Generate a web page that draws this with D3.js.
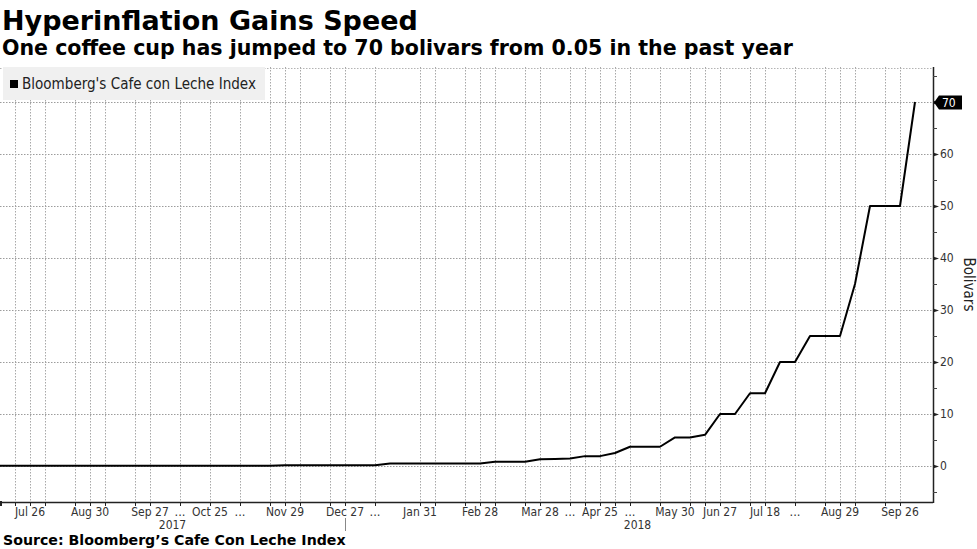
<!DOCTYPE html>
<html>
<head>
<meta charset="utf-8">
<script src="https://cdn.jsdelivr.net/npm/d3@7"></script>
<style>
  body { margin: 0; background: #fff; }
  svg { display: block; font-family: "DejaVu Sans", Verdana, sans-serif; }
</style>
</head>
<body>
<svg id="chart" width="977" height="549"></svg>
<script>
// weekly readings (a few weeks are missing in the source series)
var weeks = [
  "2017-07-12","2017-07-19","2017-07-26","2017-08-02","2017-08-09","2017-08-16","2017-08-30",
  "2017-09-06","2017-09-13","2017-09-20","2017-09-27","2017-10-04","2017-10-11","2017-10-18",
  "2017-10-25","2017-11-01","2017-11-08","2017-11-15","2017-11-22","2017-11-29","2017-12-06",
  "2017-12-13","2017-12-20","2017-12-27","2018-01-03","2018-01-10","2018-01-17","2018-01-24",
  "2018-01-31","2018-02-07","2018-02-14","2018-02-21","2018-02-28","2018-03-07","2018-03-14",
  "2018-03-21","2018-03-28","2018-04-04","2018-04-11","2018-04-18","2018-04-25","2018-05-02",
  "2018-05-09","2018-05-16","2018-05-23","2018-05-30","2018-06-06","2018-06-13","2018-06-27",
  "2018-07-04","2018-07-11","2018-07-18","2018-07-25","2018-08-01","2018-08-08","2018-08-15",
  "2018-08-29","2018-09-05","2018-09-12","2018-09-19","2018-09-26","2018-10-03"
];

// price of a cafe con leche, bolivars
var cafeConLeche = [
  0.05, 0.05, 0.05, 0.05, 0.05, 0.05, 0.05,
  0.05, 0.05, 0.05, 0.05, 0.05, 0.05, 0.05,
  0.05, 0.05, 0.05, 0.05, 0.05, 0.15, 0.15,
  0.15, 0.15, 0.15, 0.15, 0.15, 0.5, 0.5,
  0.5, 0.5, 0.5, 0.5, 0.5, 0.8, 0.8,
  0.8, 1.3, 1.35, 1.45, 1.9, 1.9, 2.5,
  3.7, 3.7, 3.7, 5.5, 5.5, 6, 10,
  10, 14, 14, 20, 20, 25, 25,
  25, 35, 50, 50, 50, 70
];

var labelWeeks = ["2017-07-26","2017-08-30","2017-09-27","2017-10-25","2017-11-29","2017-12-27",
  "2018-01-31","2018-02-28","2018-03-28","2018-04-25","2018-05-30","2018-06-27","2018-07-18",
  "2018-08-29","2018-09-26"];
var ellipsisWeeks = ["2017-10-11","2017-11-08","2018-01-10","2018-04-11","2018-05-09","2018-08-01"];
var gridWeeks = ["2017-07-19","2017-07-26","2017-08-02","2017-08-16","2017-08-30","2017-09-06",
  "2017-09-20","2017-09-27","2017-10-11","2017-10-25","2017-11-08","2017-11-22","2017-11-29",
  "2017-12-06","2017-12-20","2017-12-27","2018-01-10","2018-01-31","2018-02-07","2018-02-21",
  "2018-02-28","2018-03-07","2018-03-21","2018-03-28","2018-04-11","2018-04-18","2018-04-25",
  "2018-05-02","2018-05-09","2018-05-23","2018-06-06","2018-06-13","2018-06-27","2018-07-11",
  "2018-07-18","2018-08-01","2018-08-15","2018-08-29","2018-09-05","2018-09-19","2018-09-26"];
var years = [{ label: "2017", from: "2017-07-12", to: "2017-12-27" },
             { label: "2018", from: "2018-01-03", to: "2018-10-03" }];
var yMajor = [0, 10, 20, 30, 40, 50, 60, 70];
var yMinor = [-5, 5, 15, 25, 35, 45, 55, 65, 75];

(function(){
  var svg = d3.select("#chart");
  var pl = 0, pr = 933, pt = 67, pb = 502;

  var x = d3.scalePoint().domain(weeks).range([0, 915]);
  var y = d3.scaleLinear().domain([-6.92, 76.73]).range([pb, pt]);
  var fmt = d3.timeFormat("%b %-d");
  var parse = d3.timeParse("%Y-%m-%d");
  function px(v){ return Math.round(v) + 0.5; }

  //fit a text to the width it has in the original
  function fitWidth(t, w){
    var size = parseFloat(t.attr("font-size"));
    var len = t.node().getComputedTextLength();
    t.attr("font-size", (size * w / len).toFixed(2));
  }

  // titles
  fitWidth(svg.append("text").attr("x", 2).attr("y", 30).attr("font-size", 27)
    .attr("font-weight", "bold").attr("fill", "#000").text("Hyperinflation Gains Speed"), 416);
  fitWidth(svg.append("text").attr("x", 2).attr("y", 55).attr("font-size", 19)
    .attr("font-weight", "bold").attr("fill", "#000")
    .text("One coffee cup has jumped to 70 bolivars from 0.05 in the past year"), 791);
  fitWidth(svg.append("text").attr("x", 3).attr("y", 545).attr("font-size", 15)
    .attr("font-weight", "bold").attr("fill", "#000")
    .text("Source: Bloomberg\u2019s Cafe Con Leche Index"), 343);

  var plot = svg.append("g");

  // dotted grid
  plot.append("line").attr("x1", pl).attr("x2", pr).attr("y1", pt + 1.5).attr("y2", pt + 1.5)
    .attr("stroke", "#b4b4b4").attr("stroke-dasharray", "1.5,1.5");
  plot.selectAll(".hgrid").data(yMajor).enter().append("line")
    .attr("class", "hgrid")
    .attr("x1", pl).attr("x2", pr)
    .attr("y1", function(d){ return px(y(d)); })
    .attr("y2", function(d){ return px(y(d)); })
    .attr("stroke", "#9c9c9c").attr("stroke-dasharray", "1.5,1.5");
  plot.selectAll(".vgrid").data(gridWeeks).enter().append("line")
    .attr("class", "vgrid")
    .attr("x1", function(d){ return px(x(d)); })
    .attr("x2", function(d){ return px(x(d)); })
    .attr("y1", pt).attr("y2", pb)
    .attr("stroke", "#a8a8a8").attr("stroke-dasharray", "1.5,1.5");

  // legend box
  var legend = svg.append("g");
  legend.append("rect").attr("x", 3).attr("y", 67).attr("width", 262).attr("height", 33).attr("fill", "#f0f0f0");
  legend.append("rect").attr("x", 10).attr("y", 80).attr("width", 8).attr("height", 8).attr("fill", "#000");
  fitWidth(legend.append("text").attr("x", 22).attr("y", 89).attr("font-size", 13).attr("fill", "#222")
    .attr("font-stretch", "condensed").text("Bloomberg's Cafe con Leche Index"), 234);

  // the series
  var line = d3.line()
    .x(function(d, i){ return x(weeks[i]); })
    .y(function(d){ return y(d); });
  plot.append("path").datum(cafeConLeche)
    .attr("d", line).attr("fill", "none")
    .attr("stroke", "#000").attr("stroke-width", 2).attr("stroke-linejoin", "round");

  // x axis
  var xAxis = svg.append("g").attr("transform", "translate(0," + pb + ")");
  xAxis.append("line").attr("x1", 0).attr("x2", pr).attr("y1", 0.5).attr("y2", 0.5)
    .attr("stroke", "#222").attr("stroke-width", 1.5);
  xAxis.append("rect").attr("x", 0).attr("y", -1).attr("width", 2).attr("height", 5).attr("fill", "#222");
  xAxis.selectAll(".xt").data(gridWeeks).enter().append("line")
    .attr("x1", function(d){ return px(x(d)); })
    .attr("x2", function(d){ return px(x(d)); })
    .attr("y1", 0).attr("y2", 4).attr("stroke", "#222");
  xAxis.selectAll(".xl").data(labelWeeks).enter().append("text")
    .attr("x", function(d){ return x(d); }).attr("y", 14)
    .attr("text-anchor", "middle").attr("font-size", 12).attr("font-stretch", "condensed")
    .attr("fill", "#333").text(function(d){ return fmt(parse(d)); });
  xAxis.selectAll(".xe").data(ellipsisWeeks).enter().append("text")
    .attr("x", function(d){ return x(d); }).attr("y", 14)
    .attr("text-anchor", "middle").attr("font-size", 11.5).attr("fill", "#333").text("...");
  xAxis.selectAll(".yr").data(years).enter().append("text")
    .attr("x", function(d){ return (x(d.from) + x(d.to)) / 2; })
    .attr("y", 27).attr("text-anchor", "middle").attr("font-size", 12).attr("font-stretch", "condensed")
    .attr("fill", "#333").text(function(d){ return d.label; });
  xAxis.append("line")
    .attr("x1", px(x(years[0].to))).attr("x2", px(x(years[0].to)))
    .attr("y1", 16).attr("y2", 29).attr("stroke", "#888");

  // y axis on the right
  var yAxis = svg.append("g");
  yAxis.append("line").attr("x1", pr + 0.5).attr("x2", pr + 0.5).attr("y1", pt).attr("y2", pb + 1)
    .attr("stroke", "#222").attr("stroke-width", 1.5);
  yAxis.selectAll(".ymaj").data(yMajor).enter().append("path")
    .attr("d", function(d){ var yy = px(y(d)); return "M" + pr + "," + (yy - 2) + "L" + (pr + 6) + "," + yy + "L" + pr + "," + (yy + 2) + "Z"; })
    .attr("fill", "#222");
  yAxis.selectAll(".ymin").data(yMinor).enter().append("line")
    .attr("x1", pr).attr("x2", pr + 4)
    .attr("y1", function(d){ return px(y(d)); })
    .attr("y2", function(d){ return px(y(d)); })
    .attr("stroke", "#444");
  yAxis.selectAll(".yl").data(yMajor.filter(function(d){ return d != 70; })).enter().append("text")
    .attr("x", pr + 7).attr("y", function(d){ return y(d) + 4; })
    .attr("font-size", 12).attr("font-stretch", "condensed").attr("fill", "#333")
    .text(function(d){ return d; });
  yAxis.append("text")
    .attr("transform", "translate(964," + ((pt + pb) / 2) + ") rotate(90)")
    .attr("text-anchor", "middle").attr("font-size", 15).attr("font-stretch", "condensed")
    .attr("fill", "#222").text("Bolivars");

  // last value flag
  var last = cafeConLeche[cafeConLeche.length - 1];
  var ly = px(y(last));
  yAxis.append("path")
    .attr("d", "M" + (pr + 1) + "," + ly + "L" + (pr + 6) + "," + (ly - 7) + "L" + (pr + 29) + "," + (ly - 7)
      + "L" + (pr + 29) + "," + (ly + 7) + "L" + (pr + 6) + "," + (ly + 7) + "Z")
    .attr("fill", "#000");
  yAxis.append("text").attr("x", pr + 9).attr("y", ly + 4.5)
    .attr("font-size", 12).attr("font-stretch", "condensed").attr("fill", "#fff").text(last);
})();
</script>
</body>
</html>
